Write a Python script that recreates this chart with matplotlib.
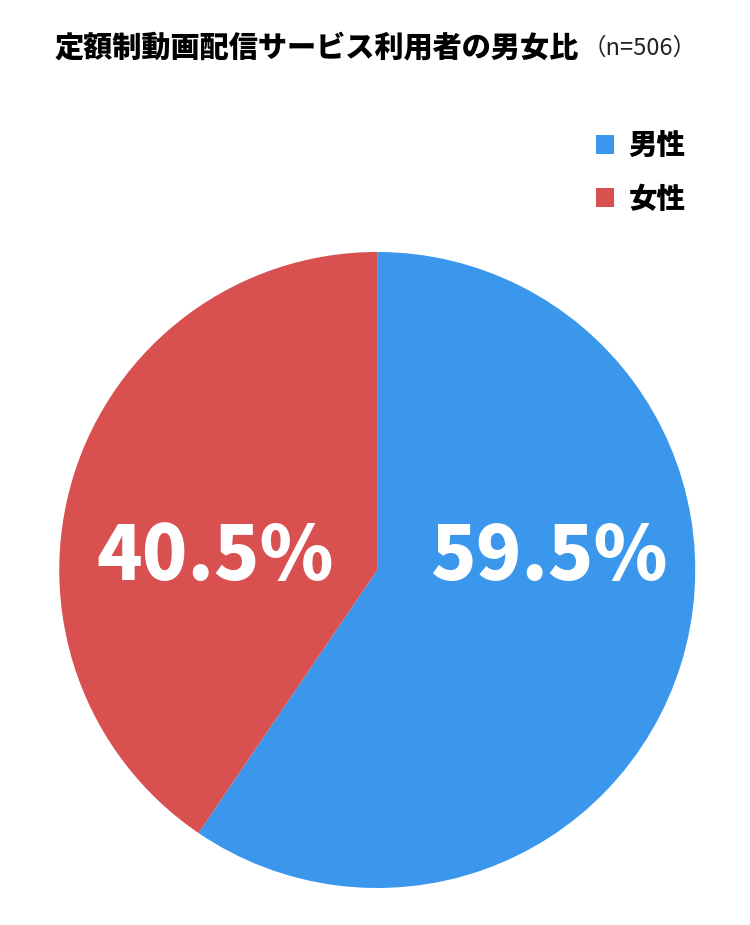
import matplotlib
matplotlib.use("Agg")
import matplotlib.pyplot as plt
from matplotlib.patches import Patch

plt.rcParams['font.family'] = ['Noto Sans CJK JP', 'DejaVu Sans']

# データ
labels = ["男性", "女性"]
shares = [59.5, 40.5]
colors = ["#3A97EC", "#D95050"]
title = "定額制動画配信サービス利用者の男女比"
sample_note = "（n=506）"

fig = plt.figure(figsize=(7.5, 9.25), dpi=100)
ax = fig.add_axes([0.079, 0.040, 0.848, 0.6876])

wedges, _ = ax.pie(shares, colors=colors, startangle=90, counterclock=False,
                   radius=1.0, wedgeprops=dict(linewidth=0))
ax.set_xlim(-1, 1)
ax.set_ylim(-1, 1)
ax.set_aspect("auto")
ax.axis("off")

# パーセント表示
label_x = [0.54, -0.51]
for x, val in zip(label_x, shares):
    ax.text(x, 0.04, f"{val}%", ha="center", va="center", color="white",
            fontsize=54, fontweight="heavy")

# タイトル
fig.text(55 / 750, 1 - 48 / 925, title, ha="left", va="center",
         fontsize=21, fontweight="heavy", color="black")
fig.text(583 / 750, 1 - 48 / 925, sample_note, ha="left", va="center",
         fontsize=17, color="#222222")

# 凡例
handles = [Patch(facecolor=c, edgecolor="none") for c in colors]
leg = fig.legend(handles, labels, loc="upper right",
                 bbox_to_anchor=(711 / 750, 1 - 105 / 925),
                 frameon=False, prop=dict(size=20.5, weight="heavy"),
                 handlelength=0.65, handleheight=0.65, handletextpad=0.5,
                 labelspacing=0.85)

fig.savefig("out.png", dpi=100, facecolor="white")
